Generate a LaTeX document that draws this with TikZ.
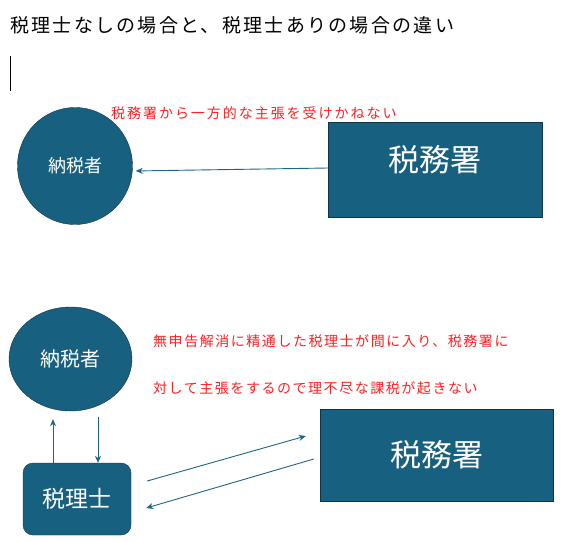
\documentclass[tikz,border=0pt]{standalone}
\usepackage{fontspec}
\usetikzlibrary{positioning,shapes.geometric,arrows.meta}
\newfontfamily\jp{Noto Sans CJK JP}
\newfontfamily\jpheading[LetterSpace=12]{Noto Sans CJK JP}
\newfontfamily\jpwide[LetterSpace=14]{Noto Sans CJK JP}
\newfontfamily\jpnarrow[LetterSpace=11]{Noto Sans CJK JP}
\definecolor{taxFill}{HTML}{17607F}
\definecolor{taxEdge}{HTML}{0E3447}
\definecolor{taxLink}{HTML}{1D6587}
\definecolor{taxNote}{HTML}{FF2020}

\tikzset{
    payer/.style={ellipse, draw=taxEdge, fill=taxFill, text=white, inner sep=0pt},
    office/.style={rectangle, draw=taxEdge, fill=taxFill, text=white, inner sep=0pt,
        font=\jp\fontsize{31pt}{31pt}\selectfont},
    advisor/.style={rectangle, rounded corners=10pt, draw=taxEdge, fill=taxFill, text=white,
        inner sep=0pt, font=\jp\fontsize{23pt}{23pt}\selectfont},
    note/.style={anchor=west, inner sep=0pt, text=taxNote},
    link/.style={draw=taxLink, line width=0.9pt, -{Stealth[length=7pt,width=6pt]}}
}

\begin{document}
\begin{tikzpicture}[x=1pt, y=-1pt]
    \path[fill=white, use as bounding box] (0,0) rectangle (588,541);

    % heading and cursor
    \node[anchor=west, inner sep=0pt, font=\jpheading\fontsize{19pt}{19pt}\selectfont] (heading) at (10,25)
        {税理士なしの場合と、税理士ありの場合の違い};
    \draw[black, line width=0.8pt] (10,56) -- (10,91);

    % without a tax accountant
    \node[payer, minimum width=115pt, minimum height=117pt, font=\jp\fontsize{18pt}{18pt}\selectfont] (payerA) at (75,166) {納税者};
    \node[office, minimum width=214pt, minimum height=95pt, text depth=22pt] (officeA) at (435,169.5) {税務署};
    \node[note, font=\jpwide\fontsize{14pt}{14pt}\selectfont] (noteA) at (111,113) {税務署から一方的な主張を受けかねない};
    \draw[link, shorten >=3pt] ([yshift=1.5pt]officeA.west) -- ([yshift=-5pt]payerA.east);

    % with a tax accountant
    \node[payer, minimum width=123pt, minimum height=104pt, font=\jp\fontsize{20pt}{20pt}\selectfont] (payerB) at (70.5,359) {納税者};
    \node[advisor, minimum width=108pt, minimum height=72pt] (advisor) at (77,499) {税理士};
    \node[office, minimum width=233pt, minimum height=92pt] (officeB) at (436.5,455) {税務署};
    \node[note, font=\jpnarrow\fontsize{14pt}{14pt}\selectfont] (noteB) at (153,341) {無申告解消に精通した税理士が間に入り、税務署に};
    \node[note, font=\jpnarrow\fontsize{14pt}{14pt}\selectfont] (noteC) at (153,388) {対して主張をするので理不尽な課税が起きない};

    \draw[link, shorten >=8pt] ([xshift=-24pt]advisor.north) -- ([xshift=-24pt]advisor.north |- payerB.south);
    \draw[link, shorten <=6pt] ([xshift=21pt]advisor.north |- payerB.south) -- ([xshift=21pt]advisor.north);
    \draw[link] ([shift={(16pt,18pt)}]advisor.east) -- ([shift={(-14pt,19pt)}]officeB.west);
    \draw[link] ([shift={(-6pt,-4pt)}]officeB.west) -- ([shift={(15pt,-9pt)}]advisor.east);
\end{tikzpicture}
\end{document}
